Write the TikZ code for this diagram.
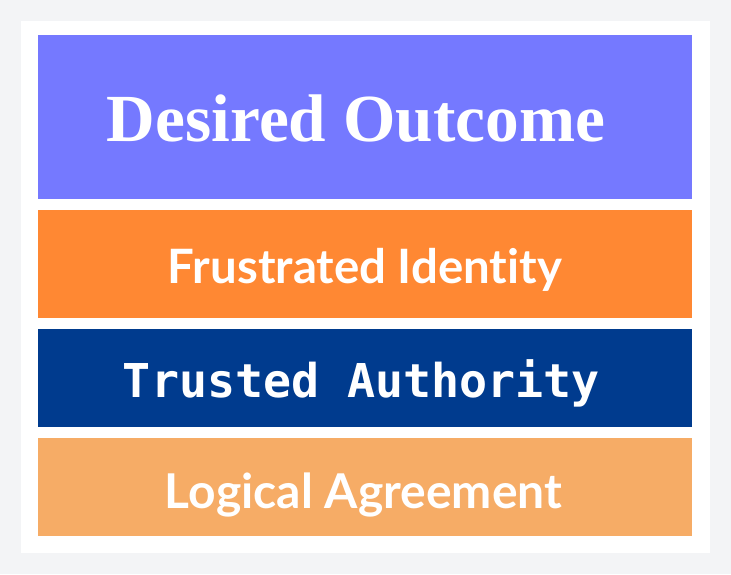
\documentclass[tikz,border=0pt]{standalone}
\usepackage{fontspec}
\setmainfont{Liberation Serif}
\newfontfamily\bandsans{Lato}[Ligatures=NoCommon]
\newfontfamily\bandmono{DejaVu Sans Mono}
\definecolor{pagebg}{HTML}{F3F4F6}
\definecolor{cpurple}{HTML}{7579FF}
\definecolor{corange}{HTML}{FF8833}
\definecolor{cnavy}{HTML}{003B8E}
\definecolor{clight}{HTML}{F6AC66}
\tikzset{
  band/.style={anchor=north west, inner sep=0pt, minimum width=654pt, draw=none},
  label/.style={anchor=base, inner sep=0pt, text=white}
}
\begin{document}
\begin{tikzpicture}[x=1pt,y=-1pt]
\useasboundingbox (0,0) rectangle (731,574);
\fill[pagebg] (0,0) rectangle (731,574);
\fill[white] (21,21) rectangle (710,553);
\node[band, fill=cpurple, minimum height=164pt] (b1) at (38,35) {};
\node[band, fill=corange, minimum height=108pt] (b2) at (38,210) {};
\node[band, fill=cnavy, minimum height=98pt] (b3) at (38,329) {};
\node[band, fill=clight, minimum height=98pt] (b4) at (38,438) {};
\node[label] (t1) at (356,141) {\resizebox{498pt}{!}{\bfseries Desired Outcome}};
\node[label] (t2) at (365,283) {\resizebox{394pt}{!}{\bandsans\bfseries Frustrated Identity}};
\node[label] (t3) at (361.5,397) {\resizebox{477pt}{!}{\bandmono\bfseries Trusted Authority}};
\node[label] (t4) at (363.5,508) {\resizebox{397pt}{!}{\bandsans\bfseries Logical Agreement}};
\end{tikzpicture}
\end{document}
